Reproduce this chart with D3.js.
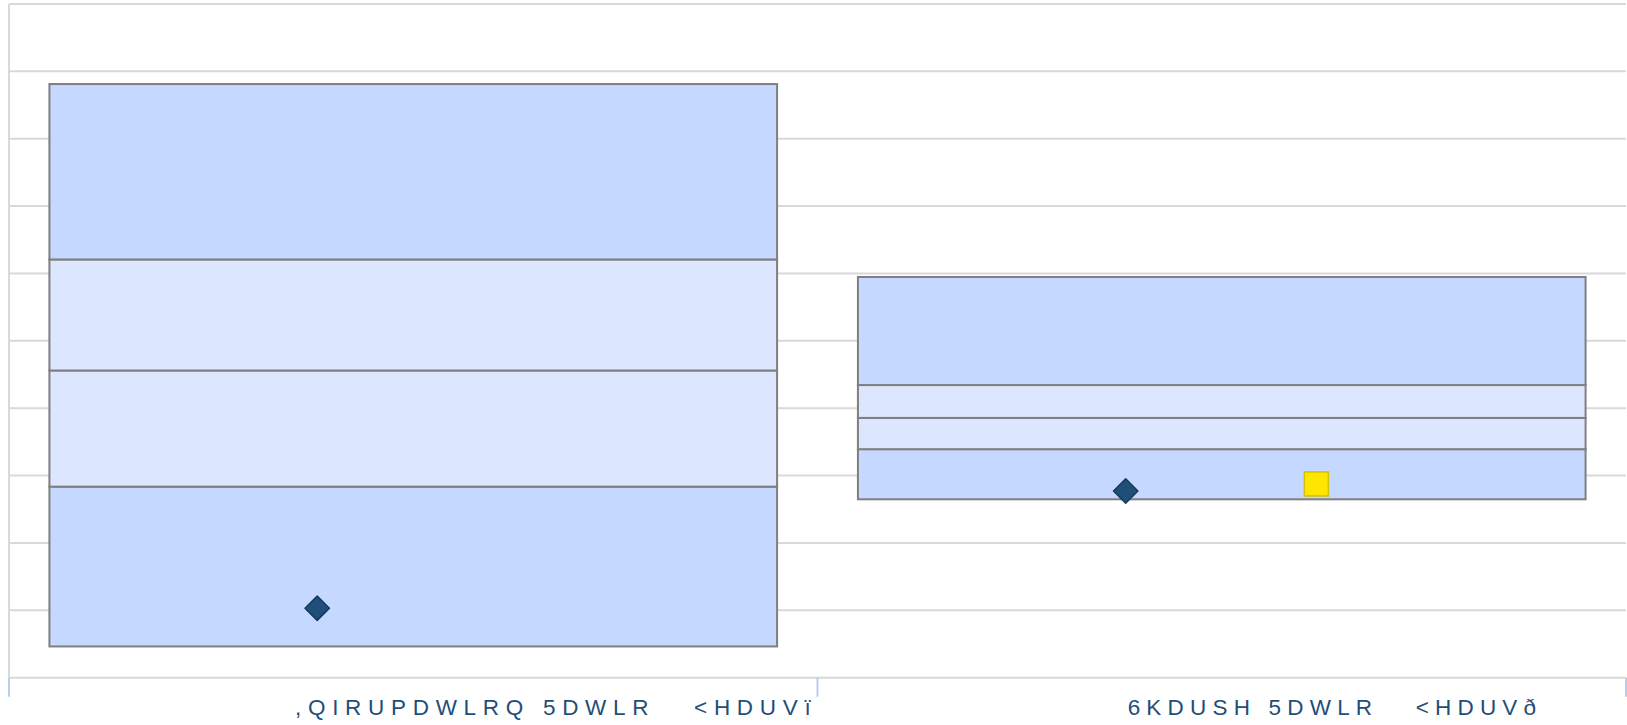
<!DOCTYPE html>
<html>
<head>
  <meta charset="utf-8">
  <title>Ratio boxes</title>
  <script src="https://d3js.org/d3.v7.min.js"></script>
  <style>
    body { margin: 0; background: #fff; }
    svg { display: block; }
  </style>
</head>
<body>
<svg width="1627" height="725"></svg>
<script>
// category labels exactly as they render in the source (garbled font encoding)
var categories = [",QIRUPDWLRQ 5DWLR   <HDUVï", "6KDUSH 5DWLR   <HDUVð"]
// box bands, bottom to top
var lowValues    = [-0.884, -0.338]
var q1Values     = [-0.291, -0.152]
var medianValues = [ 0.140, -0.036]
var q3Values     = [ 0.552,  0.086]
var highValues   = [ 1.203,  0.487]
// markers
var fundValues      = [-0.742, -0.307]
var benchmarkValues = [null, -0.281]
var gridTicks = d3.range(-1, 1.5001, 0.25)

function drawChart() {
  var svg = d3.select('svg')
  var plotLeft = 9, plotRight = 1626, plotTop = 4, plotBottom = 677.7

  var x = d3.scaleBand()
    .domain(categories)
    .range([plotLeft, plotRight])
    .paddingInner(0.1)
    .paddingOuter(0.05)

  var y = d3.scaleLinear()
    .domain([-1, 1.5])
    .range([plotBottom, plotTop])

  // gridlines
  svg.append('g')
    .selectAll('line')
    .data(gridTicks)
    .enter().append('line')
      .attr('x1', plotLeft)
      .attr('x2', plotRight)
      .attr('y1', function (d) { return y(d) })
      .attr('y2', function (d) { return y(d) })
      .attr('stroke', '#d9d9d9')
      .attr('stroke-width', 2)

  // left axis line
  svg.append('line')
    .attr('x1', plotLeft).attr('x2', plotLeft)
    .attr('y1', plotTop).attr('y2', plotBottom)
    .attr('stroke', '#d9d9d9')
    .attr('stroke-width', 2)

  // category separator ticks
  var sepX = [plotLeft, x(categories[1]) - x.step() * 0.05, plotRight]
  svg.append('g')
    .selectAll('line')
    .data(sepX)
    .enter().append('line')
      .attr('x1', function (d) { return d })
      .attr('x2', function (d) { return d })
      .attr('y1', plotBottom)
      .attr('y2', plotBottom + 19)
      .attr('stroke', '#b9cde5')
      .attr('stroke-width', 2)

  // box segments
  var segments = []
  categories.forEach(function (c, i) {
    var edges = [lowValues[i], q1Values[i], medianValues[i], q3Values[i], highValues[i]]
    for (var k = 0; k < 4; k++) {
      segments.push({ cat: c, from: edges[k], to: edges[k + 1], outer: k === 0 || k === 3 })
    }
  })

  svg.append('g')
    .selectAll('rect')
    .data(segments)
    .enter().append('rect')
      .attr('x', function (d) { return x(d.cat) })
      .attr('width', x.bandwidth())
      .attr('y', function (d) { return y(d.to) })
      .attr('height', function (d) { return y(d.from) - y(d.to) })
      .attr('fill', function (d) { return d.outer ? '#c5d8ff' : '#dce6fe' })
      .attr('stroke', '#7f7f7f')
      .attr('stroke-width', 2)

  // fund markers (diamonds)
  svg.append('g')
    .selectAll('path')
    .data(categories)
    .enter().append('path')
      .attr('d', d3.symbol().type(d3.symbolDiamond2).size(380))
      .attr('transform', function (d, i) {
        return 'translate(' + (x(d) + x.bandwidth() * 0.368) + ',' + y(fundValues[i]) + ')'
      })
      .attr('fill', '#1f4e79')
      .attr('stroke', '#17395a')
      .attr('stroke-width', 1.5)
      .attr('stroke-linejoin', 'round')

  // benchmark markers (squares)
  svg.append('g')
    .selectAll('rect')
    .data(categories.filter(function (d, i) { return benchmarkValues[i] !== null }))
    .enter().append('rect')
      .attr('x', function (d) { return x(d) + x.bandwidth() * 0.63 - 12 })
      .attr('y', function (d) { return y(benchmarkValues[categories.indexOf(d)]) - 12 })
      .attr('width', 24)
      .attr('height', 24)
      .attr('fill', '#ffe600')
      .attr('stroke', '#d4c100')
      .attr('stroke-width', 1.5)

  // category labels
  var labelStart = [245.6, 269.7]
  var labelSpacing = [6.7, 6.2]
  svg.append('g')
    .selectAll('text')
    .data(categories)
    .enter().append('text')
      .attr('x', function (d, i) { return x(d) + labelStart[i] })
      .attr('y', 715)
      .style('white-space', 'pre')
      .attr('font-family', 'Liberation Sans, Arial, sans-serif')
      .attr('font-size', 22.5)
      .attr('letter-spacing', function (d, i) { return labelSpacing[i] })
      .attr('fill', '#1f4e79')
      .text(function (d) { return d })
}

drawChart()
</script>
</body>
</html>
